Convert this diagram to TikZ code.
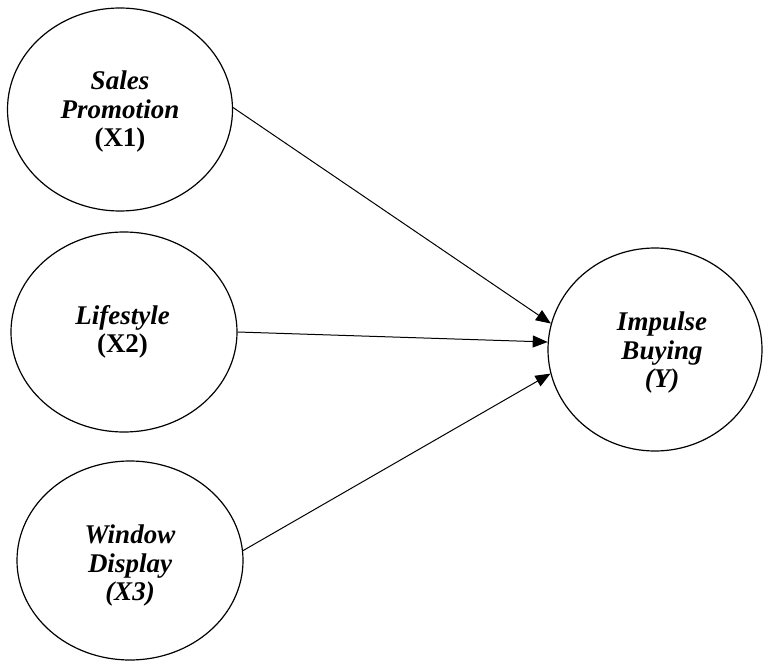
\documentclass[tikz,border=0pt]{standalone}
\usepackage{fontspec}
\setmainfont{Liberation Serif}
\usetikzlibrary{shapes.geometric,arrows.meta}
\begin{document}
\begin{tikzpicture}[x=1pt,y=-1pt,
  var/.style={draw=black,line width=1.2pt,ellipse,inner sep=0pt},
  lbl/.style={align=center,font=\fontsize{27}{28.5}\selectfont\bfseries\itshape,inner sep=0pt},
  path/.style={draw=black,line width=1pt,-{Triangle[length=15pt,width=12pt]}}]
\useasboundingbox (0,0) rectangle (763,661);
\node[var,minimum width=225pt,minimum height=203pt] (x1) at (120,109.5) {};
\node[var,minimum width=226pt,minimum height=200pt] (x2) at (124,332) {};
\node[var,minimum width=226pt,minimum height=199pt] (x3) at (130,560.5) {};
\node[var,minimum width=214pt,minimum height=203pt] (y) at (655,349.5) {};
\node[lbl] (t1) at (120,112) {Sales\\Promotion\\\upshape(X1)};
\node[lbl] (t2) at (122.5,332) {Lifestyle\\\upshape(X2)};
\node[lbl] (t3) at (130,566) {Window\\Display\\(X3)};
\node[lbl] (ty) at (662,353) {Impulse\\Buying\\(Y)};
\draw[path] (x1.1) -- (y.166);
\draw[path] (x2.0) -- (y.176);
\draw[path] (x3.5.5) -- (y.193);
\end{tikzpicture}
\end{document}
